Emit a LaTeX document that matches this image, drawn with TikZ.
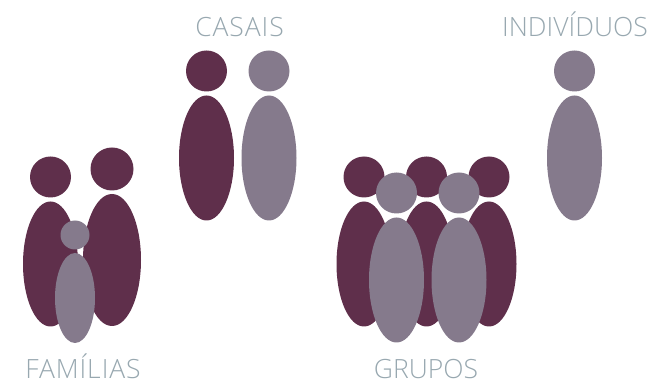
\documentclass[tikz,border=0pt]{standalone}
\usepackage{fontspec}
\setmainfont{Open Sans Light}[]
\usetikzlibrary{shapes.geometric}
\definecolor{wine}{HTML}{5F2F4B}
\definecolor{mauve}{HTML}{857A8C}
\definecolor{labelc}{HTML}{98A8B0}
\tikzset{x=1pt,y=-1pt,
 dark/.style={fill=wine},
 lite/.style={fill=mauve},
 lab/.style={text=labelc,font=\fontsize{26.5}{30}\selectfont,inner sep=0pt,anchor=base},
 labwide/.style={lab,font=\fontsize{26.5}{30}\selectfont\addfontfeature{LetterSpace=3.5}}}
\newcommand{\blob}[6]{\node[#1,ellipse,inner sep=0pt,minimum width=#4pt,minimum height=#5pt] (#6) at (#2,#3) {};}
\begin{document}
\begin{tikzpicture}
\useasboundingbox (0,0) rectangle (649,382);
\blob{dark}{206.5}{71}{41}{41}{c1h}
\blob{dark}{206.5}{158}{55}{125}{c1b}
\blob{lite}{269}{71}{41}{41}{c2h}
\blob{lite}{269}{158}{55}{125}{c2b}
\blob{lite}{574.5}{71}{41}{41}{ih}
\blob{lite}{574.5}{158}{55}{125}{ib}
\blob{dark}{50.5}{177}{41}{41}{f1h}
\blob{dark}{50.5}{264}{55}{125}{f1b}
\blob{dark}{112}{169}{43}{43}{f2h}
\blob{dark}{112}{260}{58}{132}{f2b}
\blob{lite}{75}{235}{29}{29}{f3h}
\blob{lite}{75}{298}{40}{90}{f3b}
\blob{dark}{364}{177}{41}{41}{g1h}
\blob{dark}{364}{264}{55}{125}{g1b}
\blob{dark}{426.5}{177}{41}{41}{g2h}
\blob{dark}{426.5}{264}{55}{125}{g2b}
\blob{dark}{489}{177}{41}{41}{g3h}
\blob{dark}{489}{264}{55}{125}{g3b}
\blob{lite}{396.5}{193}{41}{41}{g4h}
\blob{lite}{396.5}{280}{55}{125}{g4b}
\blob{lite}{459}{193}{41}{41}{g5h}
\blob{lite}{459}{280}{55}{125}{g5b}
\node[labwide] (t1) at (239.5,37) {CASAIS};
\node[lab] (t2) at (575,37) {INDIVÍDUOS};
\node[labwide] (t3) at (83,379) {FAMÍLIAS};
\node[lab] (t4) at (426,379) {GRUPOS};
\end{tikzpicture}
\end{document}
